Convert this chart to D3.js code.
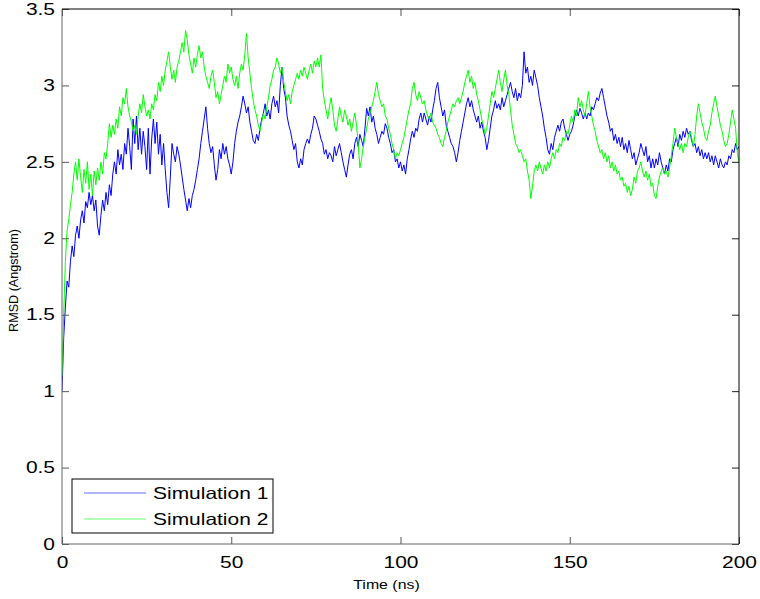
<!DOCTYPE html>
<html>
<head>
<meta charset="utf-8">
<script src="https://cdn.jsdelivr.net/npm/d3@7"></script>
<style>
  html, body { margin: 0; height: 100%; background: #fff; overflow: hidden; }
  svg { display: block; width: 100vw; height: 100vh; }
</style>
</head>
<body>
<svg viewBox="0 0 760 599" preserveAspectRatio="xMidYMid meet"></svg>
<script>
// amostragem a cada 0.5 ns, de 0 a 200 ns
const timeStep = 0.5;
const xTicks = [0, 50, 100, 150, 200];
const yTicks = [0, 0.5, 1, 1.5, 2, 2.5, 3, 3.5];
const seriesNames = ["Simulation 1", "Simulation 2"];
const seriesColors = ["#0000ff", "#00ff00"];

const sim1 = [
  1.00, 1.35, 1.55, 1.72, 1.68, 1.85, 1.95, 1.88, 2.02, 2.08, 2.00,
  2.12, 2.18, 2.10, 2.24, 2.20, 2.30, 2.22, 2.28, 2.18, 2.25,
  2.08, 2.02, 2.15, 2.25, 2.18, 2.30, 2.22, 2.35, 2.28, 2.42,
  2.50, 2.42, 2.58, 2.48, 2.55, 2.45, 2.62, 2.55, 2.72, 2.60,
  2.45, 2.78, 2.62, 2.80, 2.58, 2.72, 2.55, 2.70, 2.60, 2.45,
  2.72, 2.42, 2.65, 2.78, 2.62, 2.76, 2.55, 2.68, 2.48, 2.62,
  2.45, 2.30, 2.20, 2.40, 2.62, 2.55, 2.50, 2.60, 2.55, 2.48,
  2.40, 2.32, 2.25, 2.18, 2.26, 2.20, 2.28, 2.32, 2.38, 2.45,
  2.52, 2.62, 2.70, 2.78, 2.86, 2.72, 2.62, 2.56, 2.60, 2.48,
  2.38, 2.45, 2.58, 2.52, 2.62, 2.55, 2.60, 2.52, 2.48, 2.42,
  2.50, 2.62, 2.70, 2.76, 2.80, 2.86, 2.93, 2.88, 2.82, 2.86,
  2.76, 2.70, 2.64, 2.62, 2.68, 2.64, 2.72, 2.78, 2.82, 2.88,
  2.80, 2.84, 2.78, 2.88, 2.93, 2.86, 2.90, 2.82, 3.00, 3.12,
  2.98, 2.92, 2.80, 2.74, 2.70, 2.64, 2.58, 2.62, 2.50, 2.46,
  2.52, 2.48, 2.58, 2.62, 2.65, 2.62, 2.68, 2.72, 2.80, 2.78,
  2.74, 2.70, 2.65, 2.62, 2.55, 2.58, 2.52, 2.56, 2.54, 2.50,
  2.60, 2.54, 2.58, 2.62, 2.56, 2.50, 2.45, 2.40, 2.48, 2.55,
  2.58, 2.52, 2.62, 2.66, 2.60, 2.68, 2.64, 2.60, 2.72, 2.85,
  2.80, 2.86, 2.76, 2.80, 2.72, 2.68, 2.62, 2.66, 2.70, 2.68,
  2.75, 2.72, 2.66, 2.62, 2.56, 2.58, 2.50, 2.52, 2.46, 2.50,
  2.44, 2.48, 2.42, 2.52, 2.58, 2.65, 2.70, 2.66, 2.72, 2.70,
  2.78, 2.82, 2.76, 2.82, 2.78, 2.74, 2.80, 2.76, 2.84, 2.90,
  2.98, 3.02, 2.92, 2.86, 2.80, 2.84, 2.74, 2.70, 2.66, 2.62,
  2.60, 2.56, 2.50, 2.56, 2.64, 2.70, 2.76, 2.82, 2.88, 2.92,
  2.86, 2.90, 2.84, 2.80, 2.76, 2.80, 2.72, 2.76, 2.70, 2.66,
  2.58, 2.64, 2.72, 2.80, 2.84, 2.90, 2.85, 2.88, 2.84, 2.92,
  2.86, 2.90, 2.94, 2.98, 3.02, 2.96, 2.92, 2.98, 2.90, 2.95,
  2.92, 3.00, 3.22, 3.08, 3.12, 3.02, 3.06, 3.00, 3.10, 3.05,
  3.00, 2.92, 2.86, 2.80, 2.72, 2.66, 2.58, 2.55, 2.62, 2.58,
  2.66, 2.70, 2.74, 2.70, 2.76, 2.78, 2.72, 2.68, 2.64, 2.68,
  2.70, 2.74, 2.80, 2.84, 2.80, 2.85, 2.82, 2.78, 2.82, 2.78,
  2.82, 2.80, 2.86, 2.84, 2.88, 2.92, 2.90, 2.95, 2.98, 2.92,
  2.86, 2.80, 2.76, 2.70, 2.72, 2.64, 2.68, 2.62, 2.66, 2.60,
  2.66, 2.58, 2.62, 2.56, 2.64, 2.58, 2.52, 2.56, 2.48, 2.52,
  2.56, 2.62, 2.58, 2.54, 2.60, 2.50, 2.54, 2.46, 2.52, 2.46,
  2.52, 2.48, 2.56, 2.50, 2.46, 2.42, 2.48, 2.44, 2.52, 2.50,
  2.58, 2.62, 2.66, 2.60, 2.68, 2.64, 2.70, 2.66, 2.72, 2.68,
  2.70, 2.64, 2.60, 2.62, 2.56, 2.60, 2.54, 2.58, 2.52, 2.56,
  2.52, 2.56, 2.50, 2.54, 2.48, 2.54, 2.50, 2.46, 2.52, 2.48,
  2.46, 2.50, 2.48, 2.54, 2.52, 2.58, 2.56, 2.62, 2.58, 2.60
];

const sim2 = [
  1.10, 1.50, 1.85, 2.05, 2.12, 2.22, 2.30, 2.42, 2.50, 2.38, 2.52,
  2.40, 2.30, 2.45, 2.36, 2.50, 2.32, 2.42, 2.28, 2.44, 2.35,
  2.46, 2.38, 2.50, 2.42, 2.56, 2.52, 2.62, 2.75, 2.66, 2.74,
  2.68, 2.78, 2.72, 2.86, 2.80, 2.92, 2.88, 2.98, 2.86, 2.80,
  2.76, 2.70, 2.74, 2.68, 2.80, 2.88, 2.82, 2.94, 2.86, 2.80,
  2.84, 2.78, 2.88, 2.84, 2.94, 2.90, 3.02, 2.96, 3.06, 3.00,
  3.10, 3.16, 3.22, 3.12, 3.04, 3.10, 3.02, 3.12, 3.16, 3.22,
  3.28, 3.22, 3.36, 3.30, 3.20, 3.14, 3.08, 3.18, 3.12, 3.20,
  3.26, 3.18, 3.22, 3.12, 3.06, 3.02, 2.98, 3.06, 3.10, 3.02,
  2.92, 2.96, 2.88, 2.94, 3.00, 3.06, 3.02, 3.14, 3.08, 3.12,
  3.04, 3.00, 3.06, 2.98, 3.08, 3.14, 3.10, 3.20, 3.34, 3.18,
  3.08, 2.98, 2.90, 2.84, 2.80, 2.74, 2.70, 2.76, 2.82, 2.78,
  2.86, 2.92, 3.00, 3.04, 3.10, 3.12, 3.18, 3.14, 3.08, 3.12,
  3.02, 2.96, 2.90, 2.94, 2.88, 2.96, 3.00, 3.04, 3.08, 3.04,
  3.10, 3.06, 3.12, 3.08, 3.04, 3.10, 3.14, 3.08, 3.16, 3.12,
  3.18, 3.12, 3.20, 2.98, 2.90, 2.84, 2.78, 2.86, 2.92, 2.84,
  2.74, 2.70, 2.78, 2.86, 2.80, 2.76, 2.84, 2.80, 2.74, 2.78,
  2.70, 2.76, 2.82, 2.74, 2.62, 2.46, 2.52, 2.60, 2.66, 2.72,
  2.78, 2.82, 2.86, 2.90, 2.96, 3.02, 2.94, 2.90, 2.86, 2.88,
  2.80, 2.78, 2.72, 2.68, 2.62, 2.58, 2.52, 2.56, 2.54, 2.58,
  2.62, 2.66, 2.72, 2.78, 2.84, 2.88, 2.98, 3.02, 2.94, 2.90,
  2.96, 2.92, 2.88, 2.90, 2.84, 2.80, 2.78, 2.82, 2.76, 2.74,
  2.72, 2.68, 2.66, 2.62, 2.60, 2.66, 2.70, 2.76, 2.80, 2.84,
  2.88, 2.86, 2.90, 2.92, 2.88, 2.92, 2.96, 3.02, 3.06, 3.10,
  3.02, 3.06, 2.98, 3.02, 2.94, 2.90, 2.84, 2.78, 2.74, 2.68,
  2.72, 2.80, 2.88, 2.96, 2.92, 2.98, 3.04, 3.10, 3.02, 2.96,
  3.04, 3.10, 3.00, 2.94, 2.84, 2.74, 2.68, 2.62, 2.60, 2.56,
  2.58, 2.54, 2.50, 2.52, 2.44, 2.38, 2.26, 2.34, 2.44, 2.48,
  2.44, 2.50, 2.46, 2.42, 2.48, 2.44, 2.50, 2.46, 2.52, 2.56,
  2.52, 2.58, 2.56, 2.62, 2.60, 2.66, 2.64, 2.70, 2.68, 2.74,
  2.80, 2.76, 2.84, 2.80, 2.92, 2.86, 2.90, 2.84, 2.80, 2.88,
  2.96, 2.86, 2.80, 2.74, 2.70, 2.64, 2.60, 2.56, 2.58, 2.52,
  2.56, 2.50, 2.54, 2.46, 2.50, 2.44, 2.48, 2.42, 2.44, 2.38,
  2.40, 2.34, 2.36, 2.30, 2.34, 2.28, 2.32, 2.40, 2.36, 2.44,
  2.46, 2.50, 2.44, 2.40, 2.44, 2.38, 2.42, 2.34, 2.36, 2.28,
  2.26, 2.34, 2.40, 2.44, 2.46, 2.42, 2.44, 2.40, 2.46, 2.54,
  2.62, 2.72, 2.66, 2.62, 2.58, 2.62, 2.56, 2.62, 2.60, 2.66,
  2.70, 2.66, 2.60, 2.68, 2.80, 2.88, 2.82, 2.76, 2.72, 2.66,
  2.64, 2.70, 2.74, 2.82, 2.88, 2.93, 2.86, 2.80, 2.74, 2.70,
  2.64, 2.60, 2.62, 2.68, 2.76, 2.84, 2.78, 2.72, 2.56, 2.50
];

const svg = d3.select("svg");
const width = 760, height = 599;
const margens = { left: 62, right: 21, top: 9, bottom: 55 };
const innerWidth = width - margens.left - margens.right;
const innerHeight = height - margens.top - margens.bottom;

// o original está esticado na horizontal, então o texto também
const stretch = 1.27;
const fontFamily = "'Liberation Sans', Arial, Helvetica, sans-serif";

function widen(sel) {
  sel.each(function () {
    const w = this.getComputedTextLength();
    d3.select(this)
      .attr("textLength", w * stretch)
      .attr("lengthAdjust", "spacingAndGlyphs");
  });
}

const group = svg.append("g")
  .attr("transform", `translate(${margens.left},${margens.top})`);

const x = d3.scaleLinear().domain([0, 200]).range([0, innerWidth]);
const y = d3.scaleLinear().domain([0, 3.5]).range([innerHeight, 0]);

group.append("clipPath").attr("id", "plot-clip")
  .append("rect").attr("width", innerWidth).attr("height", innerHeight);

// séries
const line = d3.line()
  .x((d, i) => x(i * timeStep))
  .y(d => y(d));

[sim1, sim2].forEach((serie, k) => {
  group.append("path")
    .datum(serie)
    .attr("clip-path", "url(#plot-clip)")
    .attr("fill", "none")
    .attr("stroke", seriesColors[k])
    .attr("stroke-width", 1)
    .attr("d", line);
});

// eixos com ticks para dentro, nos quatro lados
function styleAxis(g, color) {
  g.select(".domain").remove();
  g.selectAll(".tick line").attr("stroke", color);
  g.selectAll("text")
    .attr("font-family", fontFamily)
    .attr("font-size", 16.5)
    .attr("fill", "#000");
}

const xAxis = group.append("g")
  .attr("transform", `translate(0,${innerHeight})`)
  .call(d3.axisBottom(x).tickValues(xTicks).tickSizeInner(-7).tickSizeOuter(0)
    .tickPadding(12).tickFormat(d => d));
styleAxis(xAxis, "#555");
widen(xAxis.selectAll("text"));

const yAxis = group.append("g")
  .call(d3.axisLeft(y).tickValues(yTicks).tickSizeInner(-7).tickSizeOuter(0)
    .tickPadding(7).tickFormat(d => d));
styleAxis(yAxis, "#555");
widen(yAxis.selectAll("text"));

// topo e direita: só os ticks, sem rótulos
const topAxis = group.append("g")
  .call(d3.axisTop(x).tickValues(xTicks).tickSizeInner(-7).tickSizeOuter(0));
styleAxis(topAxis, "#555");
topAxis.selectAll("text").remove();

const rightAxis = group.append("g")
  .attr("transform", `translate(${innerWidth},0)`)
  .call(d3.axisRight(y).tickValues(yTicks).tickSizeInner(-7).tickSizeOuter(0));
styleAxis(rightAxis, "#222");
rightAxis.selectAll("text").remove();

// moldura
group.append("line").attr("x1", 0).attr("x2", 0).attr("y1", 0).attr("y2", innerHeight)
  .attr("stroke", "#666");
group.append("line").attr("x1", 0).attr("x2", innerWidth).attr("y1", innerHeight).attr("y2", innerHeight)
  .attr("stroke", "#666");
group.append("line").attr("x1", 0).attr("x2", innerWidth).attr("y1", 0).attr("y2", 0)
  .attr("stroke", "#000");
group.append("line").attr("x1", innerWidth).attr("x2", innerWidth).attr("y1", 0).attr("y2", innerHeight)
  .attr("stroke", "#000");

// rótulos dos eixos
group.append("text")
  .attr("x", innerWidth / 2 - 14)
  .attr("y", innerHeight + 45)
  .attr("text-anchor", "middle")
  .attr("font-family", fontFamily)
  .attr("font-size", 12.5)
  .text("Time (ns)")
  .call(widen);

group.append("text")
  .attr("transform", `translate(${-margens.left + 18},${innerHeight / 2 + 4}) rotate(-90)`)
  .attr("text-anchor", "middle")
  .attr("font-family", fontFamily)
  .attr("font-size", 12.6)
  .text("RMSD (Angstrom)");

// legenda
const legend = group.append("g").attr("transform", `translate(10,${innerHeight - 65})`);
legend.append("rect")
  .attr("width", 201).attr("height", 54)
  .attr("fill", "#fff").attr("stroke", "#000");
seriesNames.forEach((name, k) => {
  const ly = 14 + k * 26;
  legend.append("line")
    .attr("x1", 12).attr("x2", 74).attr("y1", ly).attr("y2", ly)
    .attr("stroke", seriesColors[k]).attr("stroke-width", 0.6);
  legend.append("text")
    .attr("x", 81)
    .attr("y", ly)
    .attr("dy", "0.36em")
    .attr("font-family", fontFamily)
    .attr("font-size", 16.5)
    .text(name)
    .call(widen);
});
</script>
</body>
</html>
